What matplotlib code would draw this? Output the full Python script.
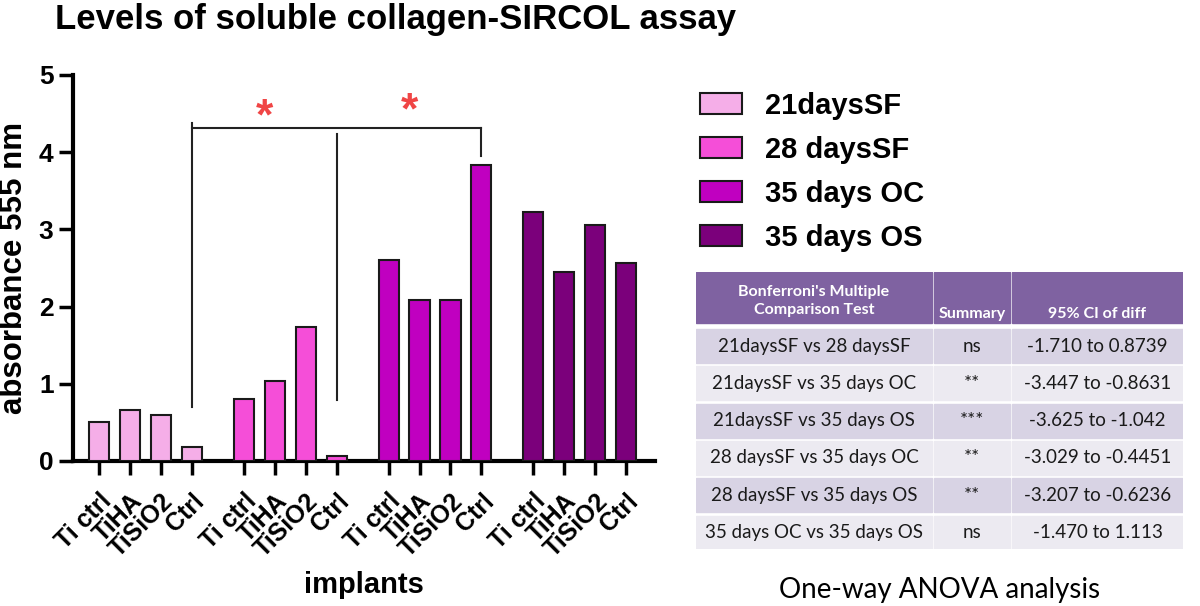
import numpy as np
import matplotlib.pyplot as plt
from matplotlib.patches import Patch, Rectangle

# data
groups = ['21daysSF', '28 daysSF', '35 days OC', '35 days OS']
implants = ['Ti ctrl', 'TiHA', 'TiSiO2', 'Ctrl']
values = [
    [0.51, 0.66, 0.60, 0.185],
    [0.80, 1.03, 1.74, 0.06],
    [2.60, 2.085, 2.085, 3.83],
    [3.23, 2.45, 3.06, 2.57],
]
colors = ['#F5AEE8', '#F54ED8', '#C000C0', '#7B007B']

table_header = ["Bonferroni's Multiple\nComparison Test", 'Summary', '95% CI of diff']
comparisons = ['21daysSF vs 28 daysSF', '21daysSF vs 35 days OC', '21daysSF vs 35 days OS',
               '28 daysSF vs 35 days OC', '28 daysSF vs 35 days OS', '35 days OC vs 35 days OS']
summary = ['ns', '**', '***', '**', '**', 'ns']
ci_diff = ['-1.710 to 0.8739', '-3.447 to -0.8631', '-3.625 to -1.042',
           '-3.029 to -0.4451', '-3.207 to -0.6236', '-1.470 to 1.113']

plt.rcParams['font.family'] = ['Liberation Sans', 'DejaVu Sans']

W, H = 1200, 606
fig = plt.figure(figsize=(W / 100, H / 100), dpi=100)

def px(x0, y0, x1, y1):
    return [x0 / W, 1 - y1 / H, (x1 - x0) / W, (y1 - y0) / H]

ax = fig.add_axes(px(73, 75, 655, 461))

stride = 4.68
pos = []
for g, vals in enumerate(values):
    x = g * stride + np.arange(len(vals))
    pos.append(x)
    ax.bar(x, vals, width=0.65, color=colors[g], edgecolor='#1a1a1a', linewidth=1.5, zorder=3)

all_pos = np.concatenate(pos)
ax.set_xticks(all_pos)
ax.set_xticklabels(implants * len(groups), rotation=45, ha='right', rotation_mode='anchor',
                   fontsize=18, fontweight='bold')
ax.set_xlim(all_pos[0] - 0.84, all_pos[-1] + 0.93)
ax.set_ylim(0, 5)
ax.set_yticks(range(6))
ax.tick_params(axis='y', labelsize=19, width=2.5, length=10, pad=4)
ax.tick_params(axis='x', width=2.5, length=10, pad=10)
for lbl in ax.get_yticklabels():
    lbl.set_fontweight('bold')
for s in ['top', 'right']:
    ax.spines[s].set_visible(False)
for s in ['left', 'bottom']:
    ax.spines[s].set_linewidth(3)
ax.set_ylabel('absorbance 555 nm', fontsize=22.5, fontweight='bold')
ax.yaxis.set_label_coords(-0.076, 0.5)
ax.set_xlabel('implants', fontsize=21, fontweight='bold')
ax.xaxis.set_label_coords(0.5, -0.285)

# significance bracket
xa, xb, xc = pos[0][3], pos[1][3], pos[2][3]
ax.plot([xa, xa], [0.70, 4.38], color='#222222', lw=1.5, clip_on=False)
ax.plot([xa, xc], [4.31, 4.31], color='#222222', lw=1.5, clip_on=False)
ax.plot([xc, xc], [4.31, 3.95], color='#222222', lw=1.5, clip_on=False)
ax.plot([xb, xb], [0.79, 4.24], color='#222222', lw=1.5, clip_on=False)
ax.text((xa + xb) / 2, 4.45, '*', color='#F04545', fontsize=32, fontweight='bold', ha='center', va='center')
ax.text((xb + xc) / 2, 4.52, '*', color='#F04545', fontsize=32, fontweight='bold', ha='center', va='center')

fig.text(55 / W, 1 - 3 / H, 'Levels of soluble collagen-SIRCOL assay', fontsize=25, fontweight='bold',
         ha='left', va='top')

handles = [Patch(facecolor=c, edgecolor='#1a1a1a', linewidth=1.5) for c in colors]
leg = fig.legend(handles, groups, loc='upper left', bbox_to_anchor=(688 / W, 1 - 80 / H), frameon=False,
                 prop={'weight': 'bold', 'size': 21}, handlelength=1.45, handleheight=0.76,
                 handletextpad=0.8, labelspacing=0.55, borderaxespad=0)

# table
tx = fig.add_axes(px(696, 272, 1183, 549))
tx.set_xlim(696, 1183)
tx.set_ylim(549, 272)
tx.axis('off')
cols = [(696, 932), (934, 1010), (1012, 1183)]
for (c0, c1), h in zip(cols, table_header):
    tx.add_patch(Rectangle((c0, 272), c1 - c0, 51, color='#7F62A1'))
    if '\n' in h:
        tx.text((c0 + c1) / 2, 301, h, color='white', fontsize=11.5, fontweight='bold', family='Lato',
                ha='center', va='center', linespacing=1.3)
    else:
        tx.text((c0 + c1) / 2, 314, h, color='white', fontsize=11.5, fontweight='bold', family='Lato',
                ha='center', va='center')
row_top = 329
pitch = 37.3
for i, row in enumerate(zip(comparisons, summary, ci_diff)):
    y0 = row_top + i * pitch
    fc = '#D8D3E4' if i % 2 == 0 else '#ECEAF1'
    for (c0, c1), t in zip(cols, row):
        tx.add_patch(Rectangle((c0, y0), c1 - c0, 34, color=fc))
        tx.text((c0 + c1) / 2, y0 + 17, t, color='#1a1a1a', fontsize=13.5, family='Lato',
                ha='center', va='center')

fig.text(940 / W, 1 - 590 / H, 'One-way ANOVA analysis', fontsize=20, family='Lato', ha='center', va='center')

fig.savefig('out.png', dpi=100)
